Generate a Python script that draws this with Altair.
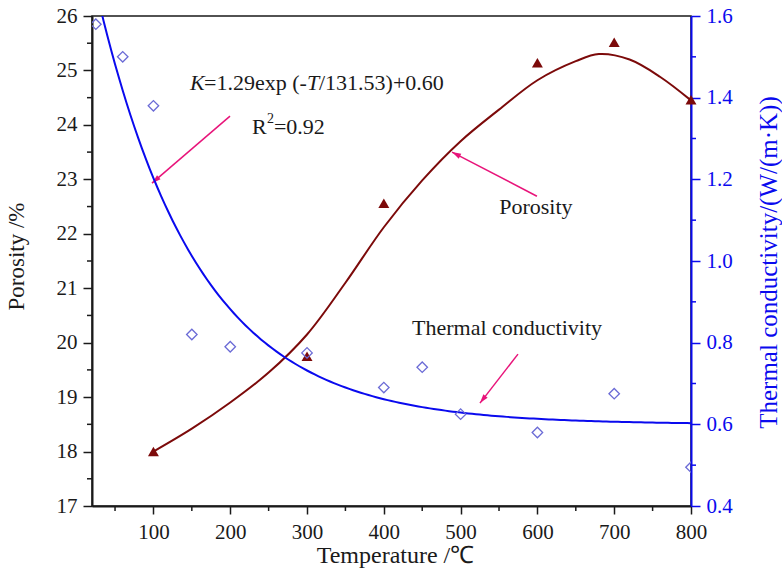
import math
import altair as alt
import pandas as pd

# ---- measured data ----
por_temp = [100, 300, 400, 600, 700, 800]
por_value = [18.0, 19.75, 22.56, 25.14, 25.52, 24.46]

# porosity trend line
por_curve_temp = [100, 150, 200, 250, 300, 350, 400, 450, 500, 550, 600, 650, 680, 720, 760, 800]
por_curve_value = [18.0, 18.42, 18.9, 19.45, 20.15, 21.1, 22.12, 22.98, 23.7, 24.28, 24.82, 25.17, 25.3, 25.2, 24.88, 24.45]

tc_temp = [25, 60, 100, 150, 200, 300, 400, 450, 500, 600, 700, 800]
tc_value = [1.58, 1.50, 1.38, 0.82, 0.79, 0.775, 0.69, 0.74, 0.625, 0.58, 0.675, 0.495]

# exponential fit K = A*exp(-T/t0) + K0
fit_a, fit_t0, fit_k0 = 1.29, 131.53, 0.60
fit_temp = [20 + 5 * i for i in range(157)]
fit_value = [fit_a * math.exp(-t / fit_t0) + fit_k0 for t in fit_temp]

x_ticks = [100, 200, 300, 400, 500, 600, 700, 800]
x_minor = [50, 150, 250, 350, 450, 550, 650, 750]
por_ticks = [17, 18, 19, 20, 21, 22, 23, 24, 25, 26]
por_minor = [17.5, 18.5, 19.5, 20.5, 21.5, 22.5, 23.5, 24.5, 25.5]
tc_ticks = [0.4, 0.6, 0.8, 1.0, 1.2, 1.4, 1.6]
tc_minor = [0.5, 0.7, 0.9, 1.1, 1.3, 1.5]

# ---- layout / style ----
W, H = 599, 490
X_DOM, P_DOM, K_DOM = [20, 800], [17, 26], [0.4, 1.6]
FONT = "Liberation Serif"
INK = "#1a1a1a"
RED = "#7c0a0a"
BLUE = "#0a0aee"
LAV = "#6b6bd6"
PINK = "#e8147a"

xs = alt.Scale(domain=X_DOM, nice=False, zero=False)
ps = alt.Scale(domain=P_DOM, nice=False, zero=False)
ks = alt.Scale(domain=K_DOM, nice=False, zero=False)

x_axis = alt.Axis(
    values=x_ticks, format="d", title="Temperature /\u2103", labelFlush=False,
    labelFont=FONT, labelFontSize=21, labelColor=INK, labelPadding=7,
    tickSize=8, tickWidth=1.5, tickColor=INK, domainColor=INK, domainWidth=2,
    titleFont=FONT, titleFontSize=24, titleFontWeight="normal", titleColor=INK,
    titleX=303, titleY=49, titleBaseline="middle", grid=False,
)
por_axis = alt.Axis(
    values=por_ticks, format="d", title="Porosity /%", orient="left", labelFlush=False,
    labelFont=FONT, labelFontSize=21, labelColor=INK, labelPadding=6,
    tickSize=9, tickWidth=1.5, tickColor=INK, domainColor=INK, domainWidth=2,
    titleFont=FONT, titleFontSize=23, titleFontWeight="normal", titleColor=INK,
    titleX=-76, titleY=240, titleBaseline="middle", titleAngle=270, grid=False,
)
tc_axis = alt.Axis(
    values=tc_ticks, format=".1f", title="Thermal conductivity/(W/(m\u00b7K))", orient="right",
    labelFlush=False,
    labelFont=FONT, labelFontSize=21, labelColor=BLUE, labelPadding=6,
    tickSize=9, tickWidth=1.5, tickColor=BLUE, domainColor=BLUE, domainWidth=2,
    titleFont=FONT, titleFontSize=25, titleFontWeight="normal", titleColor=BLUE,
    titleX=77, titleY=246, titleBaseline="middle", titleAngle=270, grid=False,
)


def xp(field="T"):
    return alt.X(f"{field}:Q", scale=xs, axis=x_axis)


def yp(field="P"):
    return alt.Y(f"{field}:Q", scale=ps, axis=por_axis)


def yk(field="K"):
    return alt.Y(f"{field}:Q", scale=ks, axis=tc_axis)


por_pts = pd.DataFrame({"T": por_temp, "P": por_value})
por_line = pd.DataFrame({"T": por_curve_temp, "P": por_curve_value})
tc_pts = pd.DataFrame({"T": tc_temp, "K": tc_value})
fit_line = pd.DataFrame({"T": fit_temp, "K": fit_value})

# ---- porosity side ----
por_curve = alt.Chart(por_line).mark_line(color=RED, strokeWidth=2, interpolate="catmull-rom").encode(
    x=xp(), y=yp()
)
por_marks = alt.Chart(por_pts).mark_point(
    shape="triangle-up", filled=True, color=RED, size=120, opacity=1
).encode(x=xp(), y=yp())
x_minor_ticks = alt.Chart(pd.DataFrame({"T": x_minor})).mark_rule(color=INK, strokeWidth=1.5).encode(
    x=xp(), y=alt.value(H), y2=alt.value(H + 5)
)
p_minor_ticks = alt.Chart(pd.DataFrame({"P": por_minor})).mark_rule(color=INK, strokeWidth=1.5).encode(
    y=yp(), x=alt.value(0), x2=alt.value(-5)
)


# annotation text, anchored in data coordinates
def text_at(t, p, s, size=22, style="normal", align="left", dx=0, dy=0):
    return alt.Chart(pd.DataFrame({"T": [t], "P": [p], "s": [s]})).mark_text(
        font=FONT, fontSize=size, fontStyle=style, color=INK,
        align=align, baseline="middle", dx=dx, dy=dy,
    ).encode(x=xp(), y=yp(), text="s:N")


fx, fy = 147.6, 24.77
texts = [
    text_at(fx, fy, "K", style="italic"),
    text_at(fx, fy, "=1.29exp (-", dx=14),
    text_at(fx, fy, "T", style="italic", dx=117),
    text_at(fx, fy, "/131.53)+0.60", dx=129),
]
rx, ry = 228.3, 23.96
texts += [
    text_at(rx, ry, "R"),
    text_at(rx, ry, "2", size=14, dx=15, dy=-8),
    text_at(rx, ry, "=0.92", dx=22),
    text_at(598, 22.49, "Porosity", align="center"),
    text_at(560.4, 20.27, "Thermal conductivity", align="center"),
]

# arrows: (start T, start P, tip T, tip P)
arrows = [
    (199.7, 24.16, 98.1, 22.93),
    (599.4, 22.69, 488.8, 23.50),
    (574.7, 19.79, 525.2, 18.89),
]
seg_rows, head_rows = [], []
for i, (t0, p0, t1, p1) in enumerate(arrows):
    seg_rows += [{"a": i, "o": 0, "T": t0, "P": p0}, {"a": i, "o": 1, "T": t1, "P": p1}]
    dxp = (t1 - t0) * W / (X_DOM[1] - X_DOM[0])
    dyp = -(p1 - p0) * H / (P_DOM[1] - P_DOM[0])
    ang = math.degrees(math.atan2(dxp, -dyp)) % 360
    head_rows.append({"T": t1, "P": p1, "ang": ang})

arrow_lines = alt.Chart(pd.DataFrame(seg_rows)).mark_line(color=PINK, strokeWidth=1.5).encode(
    x=xp(), y=yp(), detail="a:N", order="o:Q",
)
arrow_heads = alt.Chart(pd.DataFrame(head_rows)).mark_point(
    shape="M0,0L0.6,2L-0.6,2Z", filled=True, color=PINK, size=81, opacity=1
).encode(x=xp(), y=yp(), angle=alt.Angle("ang:Q", scale=None))

# ---- thermal conductivity side ----
fit_curve = alt.Chart(fit_line).mark_line(color=BLUE, strokeWidth=2, clip=True).encode(
    x=xp(), y=yk()
)
tc_marks = alt.Chart(tc_pts).mark_point(
    shape="diamond", filled=False, color=LAV, size=110, strokeWidth=1.3, opacity=1, clip=True
).encode(x=xp(), y=yk())
k_minor_ticks = alt.Chart(pd.DataFrame({"K": tc_minor})).mark_rule(color=BLUE, strokeWidth=1.5).encode(
    y=yk(), x=alt.value(W), x2=alt.value(W + 5)
)

left = alt.layer(por_curve, x_minor_ticks, p_minor_ticks, arrow_lines, arrow_heads, por_marks, *texts)
right = alt.layer(fit_curve, tc_marks, k_minor_ticks)

chart = alt.layer(left, right).resolve_scale(y="independent").properties(
    width=W, height=H,
    autosize=alt.AutoSizeParams(type="none"),
    padding={"left": 92, "top": 16, "right": 91, "bottom": 65},
    background="white",
).configure_view(stroke=INK, strokeWidth=1.5)

chart.save("out.html", embed_options={"renderer": "svg", "actions": False})
